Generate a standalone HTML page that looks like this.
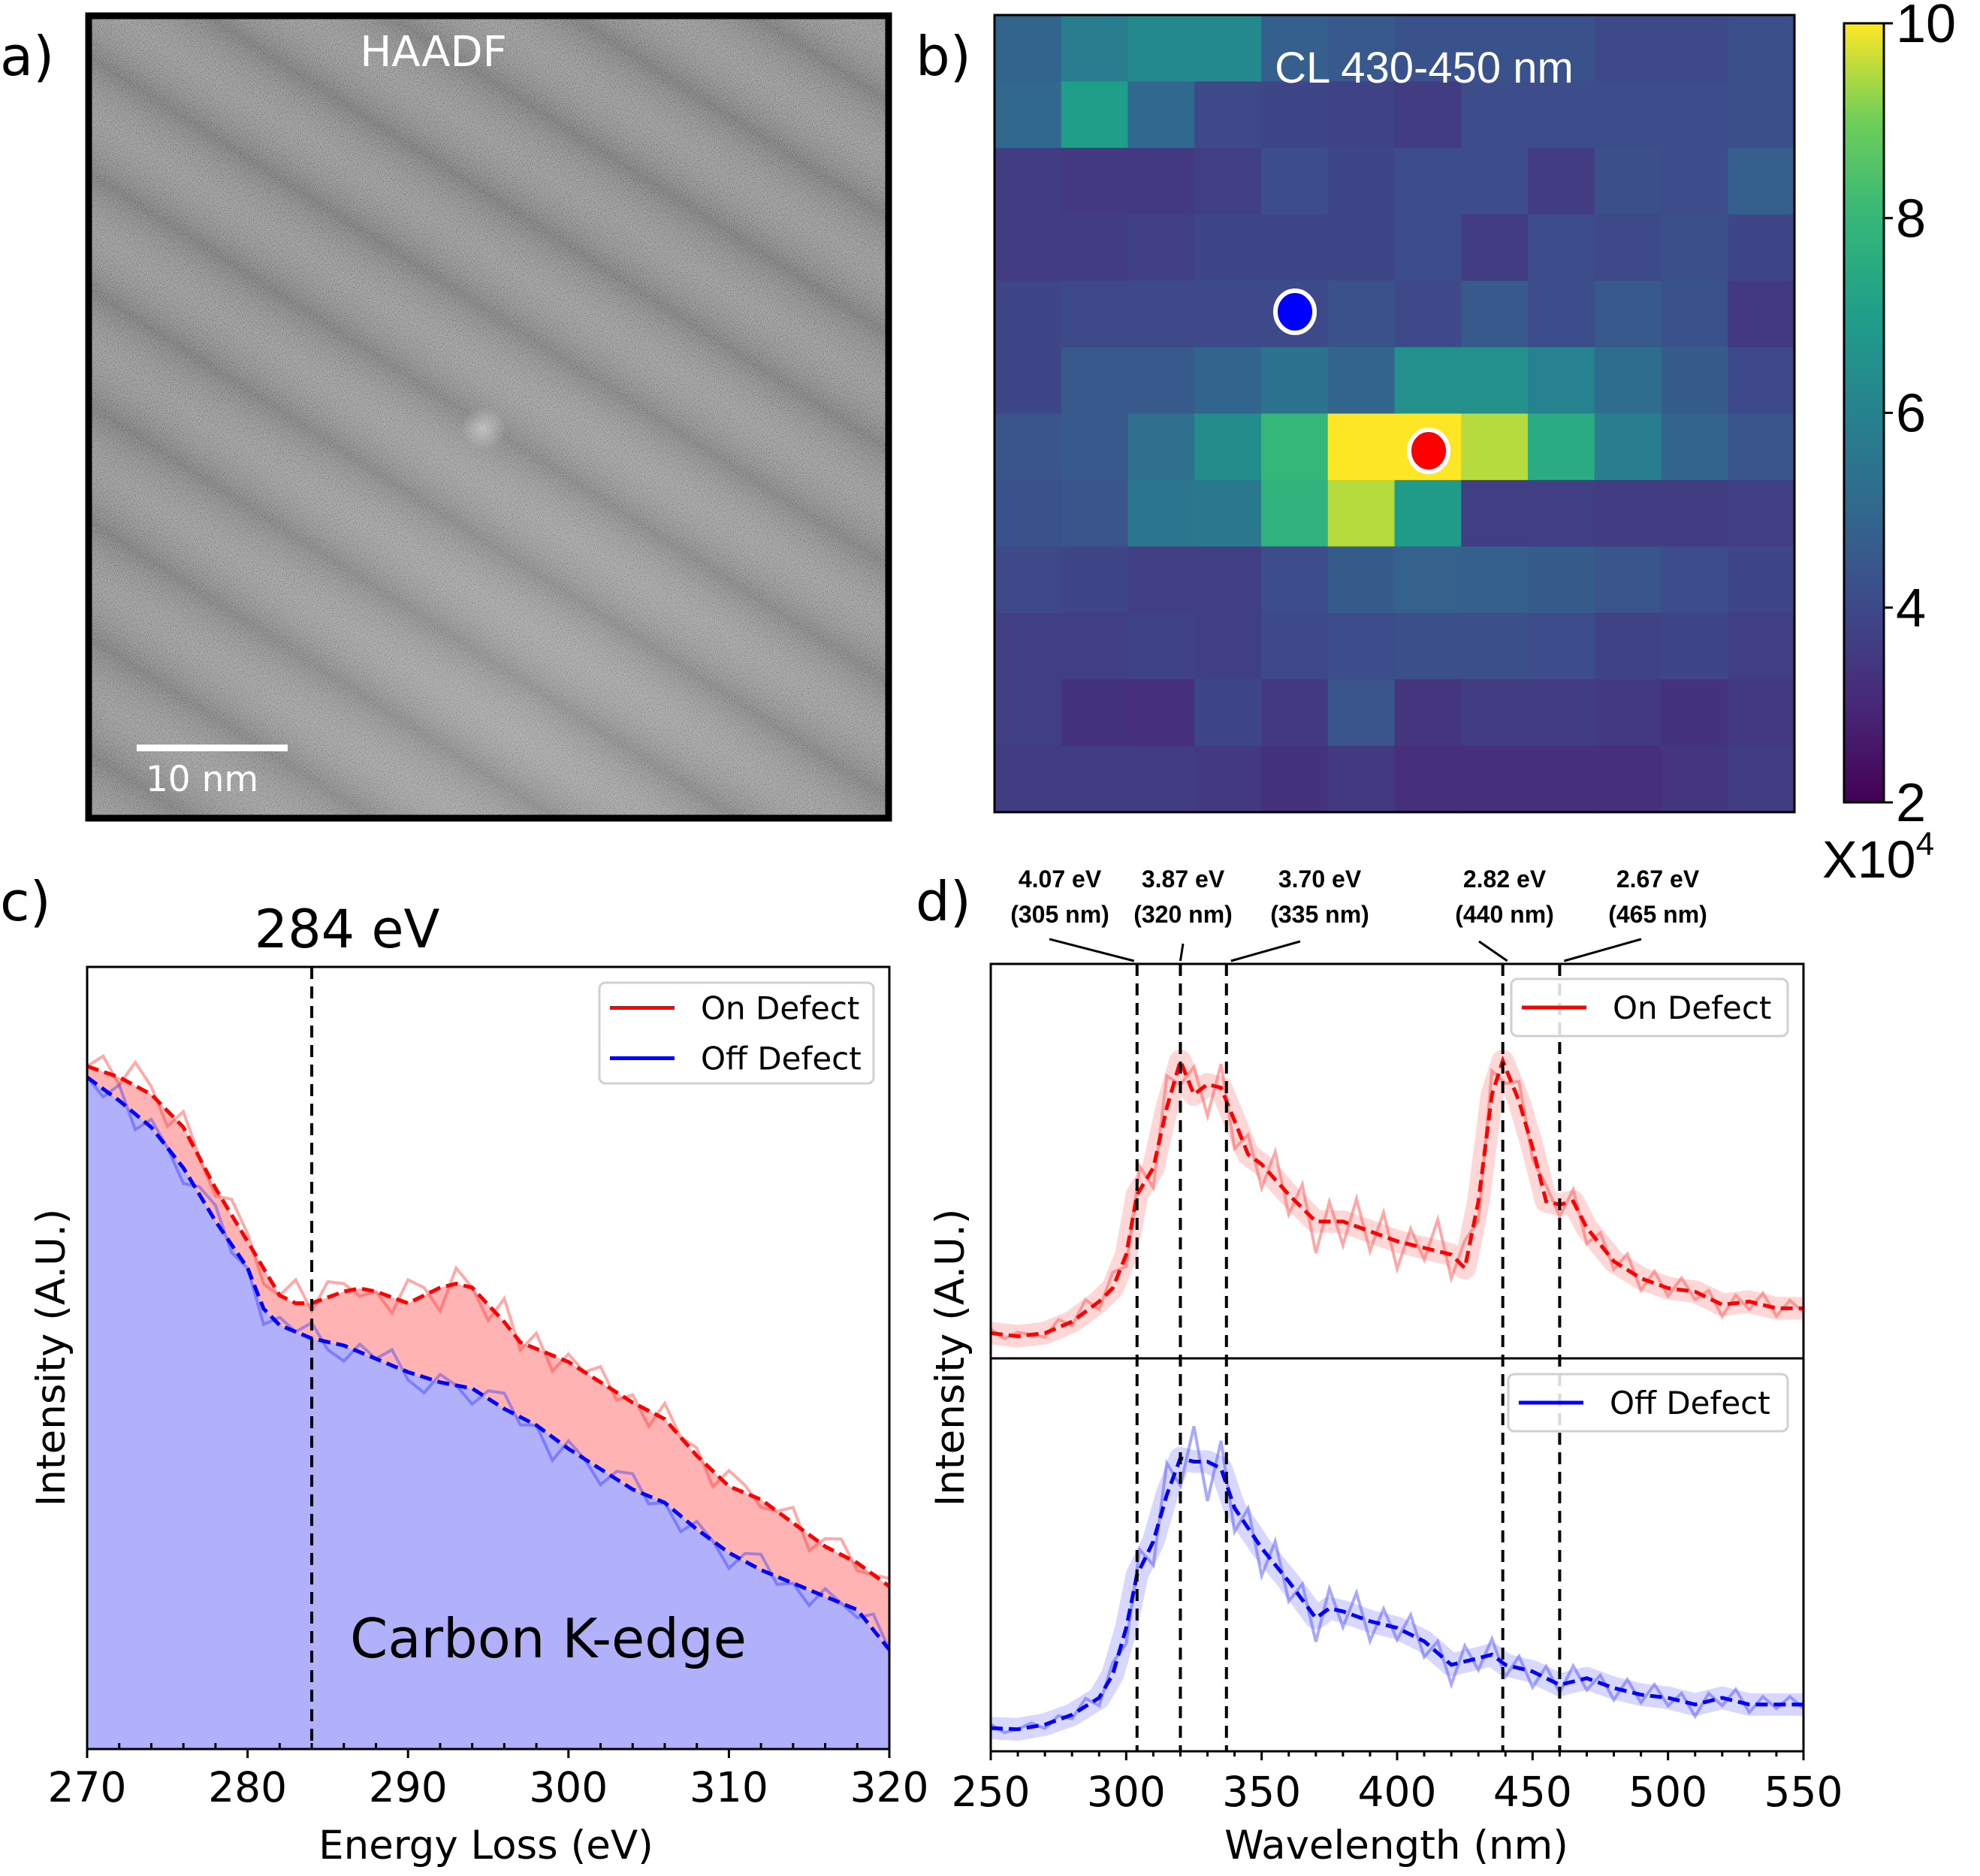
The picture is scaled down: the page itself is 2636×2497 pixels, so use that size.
<!DOCTYPE html>
<html><head><meta charset="utf-8"><style>
html,body{margin:0;padding:0;background:#fff;}
svg{display:block;font-family:"DejaVu Sans","Liberation Sans",sans-serif;}
</style></head><body>
<svg id="fig" width="2636" height="2497" viewBox="0 0 2636 2497" xmlns="http://www.w3.org/2000/svg">
<defs>
<filter id="noise" x="0" y="0" width="100%" height="100%">
<feTurbulence type="fractalNoise" baseFrequency="0.8" numOctaves="2" seed="3"/>
<feColorMatrix type="matrix" values="1.6 0 0 0 -0.3  1.6 0 0 0 -0.3  1.6 0 0 0 -0.3  0 0 0 0 0.4"/>
</filter>
<linearGradient id="bands" gradientUnits="userSpaceOnUse" x1="0" y1="0" x2="70" y2="-110" spreadMethod="repeat">
<stop offset="0" stop-color="#000" stop-opacity="0.13"/>
<stop offset="0.5" stop-color="#fff" stop-opacity="0.05"/>
<stop offset="1" stop-color="#000" stop-opacity="0.13"/>
</linearGradient>
<radialGradient id="bright" cx="0.55" cy="0.85" r="0.6">
<stop offset="0" stop-color="#fff" stop-opacity="0.15"/>
<stop offset="1" stop-color="#fff" stop-opacity="0"/>
</radialGradient>
<radialGradient id="spot" cx="0.5" cy="0.5" r="0.5">
<stop offset="0" stop-color="#fff" stop-opacity="0.45"/>
<stop offset="1" stop-color="#fff" stop-opacity="0"/>
</radialGradient>
<linearGradient id="cbar" x1="0" y1="1" x2="0" y2="0">
<stop offset="0" stop-color="#440154"/><stop offset="0.125" stop-color="#482878"/>
<stop offset="0.25" stop-color="#3e4989"/><stop offset="0.375" stop-color="#31688e"/>
<stop offset="0.5" stop-color="#26828e"/><stop offset="0.625" stop-color="#1f9e89"/>
<stop offset="0.75" stop-color="#35b779"/><stop offset="0.875" stop-color="#6ece58"/>
<stop offset="1" stop-color="#fde725"/>
</linearGradient>
</defs>

<text x="0" y="100" font-size="72">a)</text>
<text x="1219" y="100" font-size="72">b)</text>
<text x="0" y="1225" font-size="72">c)</text>
<text x="1219" y="1225" font-size="72">d)</text>

<g>
<rect x="114" y="17" width="1073" height="1076" fill="#838383"/>
<rect x="114" y="17" width="1073" height="1076" filter="url(#noise)"/>
<rect x="114" y="17" width="1073" height="1076" fill="url(#bands)"/>
<rect x="114" y="17" width="1073" height="1076" fill="url(#bright)"/>
<ellipse cx="644" cy="570" rx="30" ry="28" fill="url(#spot)"/>
<rect x="118" y="21" width="1065" height="1068" fill="none" stroke="#000" stroke-width="9"/>
</g>
<text x="577" y="88" font-size="56" fill="#fff" text-anchor="middle">HAADF</text>
<rect x="182" y="991" width="201" height="9" fill="#fff"/>
<text x="269" y="1053" font-size="47" fill="#fff" text-anchor="middle">10 nm</text>

<g id="heat"></g>
<rect x="1324" y="20" width="1065" height="1061" fill="none" stroke="#000" stroke-width="3"/>
<text x="1896" y="110" font-size="58" fill="#fff" text-anchor="middle" font-family="Liberation Sans, sans-serif">CL 430-450  nm</text>
<ellipse cx="1724" cy="415" rx="26" ry="28" fill="#0000ff" stroke="#fff" stroke-width="6"/>
<ellipse cx="1902" cy="600" rx="26" ry="28" fill="#ff0000" stroke="#fff" stroke-width="6"/>
<rect x="2455" y="31" width="53" height="1037" fill="url(#cbar)" stroke="#000" stroke-width="3"/>
<g id="cbticks"></g>
<text x="2426" y="1168" font-size="70" font-family="Liberation Sans, sans-serif">X10<tspan font-size="44" dy="-30">4</tspan></text>

<g id="pc"></g>
<g id="pd"></g>
</svg>
<script>
const heatValues = [
[4.9,5.8,6.3,6.3,4.7,4.5,4.3,4.3,4.3,4.0,4.0,4.2],
[5.0,7.0,5.0,4.0,3.9,3.8,3.6,4.1,4.1,4.1,4.1,4.2],
[3.6,3.5,3.5,3.7,4.1,3.9,4.1,4.1,3.6,4.2,4.1,4.7],
[3.6,3.6,3.7,3.9,3.9,3.9,4.1,3.6,4.1,4.0,4.2,3.9],
[3.9,4.0,4.0,4.0,4.0,4.3,4.0,4.5,4.1,4.5,4.3,3.5],
[3.9,4.5,4.5,4.9,5.4,4.9,6.5,6.5,6.0,5.2,4.6,4.0],
[4.4,4.5,5.3,6.4,8.0,10.0,10.0,9.5,7.5,5.8,4.9,4.4],
[4.3,4.4,5.5,5.6,7.8,9.5,6.9,3.7,3.7,3.6,3.6,3.7],
[4.0,3.9,3.7,3.7,4.1,4.6,4.8,4.7,4.6,4.4,4.1,3.9],
[3.7,3.7,3.8,3.7,4.0,4.1,4.2,4.2,4.1,3.8,3.9,3.7],
[3.7,3.3,3.2,3.9,3.5,4.4,3.4,3.6,3.6,3.5,3.3,3.5],
[3.6,3.6,3.6,3.5,3.3,3.5,3.2,3.2,3.2,3.2,3.4,3.6]];
const cbTicks = [2,4,6,8,10];

const eelsE  = [270,272,274,276,278,280,282,283,284,286,287,288,290,292,293,294,296,297,300,302,304,306,308,310,312,314,316,318,320];
const eelsOn = [0.873,0.859,0.837,0.795,0.717,0.649,0.580,0.570,0.570,0.585,0.589,0.585,0.570,0.590,0.595,0.590,0.546,0.520,0.495,0.469,0.443,0.422,0.375,0.336,0.319,0.289,0.259,0.238,0.208];
const eelsOffE = [270,272,274,276,278,280,281,282,284,286,288,290,292,294,296,298,300,302,304,306,308,310,312,314,316,318,320];
const eelsOff = [0.859,0.829,0.795,0.743,0.675,0.615,0.563,0.542,0.525,0.516,0.499,0.482,0.469,0.461,0.435,0.414,0.384,0.358,0.332,0.315,0.281,0.251,0.229,0.212,0.195,0.178,0.127];
const eelsNoiseOn  = [0,2,-1,3,1,-2,2,0,-1,2,1,-2,0,3,-1,2,1,-1,0,-2,3,1,-3,2,0,-2,3,-1,2,-2,1,0,2,-1,1,-2,2,0,1,-2,2,1,-1,0,2,-2,1,2,-1,0,1];
const eelsNoiseOff = [0,-1,2,-2,1,0,-2,1,2,-1,0,-2,1,0,2,-1,-2,1,0,2,-1,-2,1,0,-2,1,2,-1,0,-3,1,0,-2,1,2,-1,0,-2,1,0,-2,1,2,-1,0,-2,1,0,-1,2,0];
const eelsTicks = [270,280,290,300,310,320];

const clWlOn = [250,260,270,280,290,295,300,304,310,315,320,325,330,335,340,345,350,360,370,380,390,400,410,420,425,430,435,439,445,450,455,460,465,470,480,490,500,510,520,530,540,550];
const clOn   = [0.064,0.056,0.064,0.093,0.144,0.178,0.263,0.415,0.483,0.636,0.754,0.669,0.695,0.686,0.602,0.517,0.492,0.415,0.347,0.347,0.322,0.297,0.280,0.263,0.229,0.398,0.669,0.754,0.652,0.534,0.398,0.390,0.398,0.331,0.246,0.203,0.178,0.169,0.136,0.144,0.127,0.127];
const clWlOff = [250,260,270,280,290,295,300,304,310,315,320,325,330,335,340,350,360,370,375,380,390,400,410,420,430,435,440,450,460,470,480,490,500,510,520,530,540,550];
const clOff  = [0.059,0.056,0.068,0.093,0.136,0.195,0.314,0.449,0.534,0.653,0.746,0.737,0.737,0.720,0.619,0.517,0.432,0.339,0.364,0.356,0.331,0.314,0.280,0.220,0.237,0.246,0.220,0.203,0.169,0.186,0.161,0.144,0.136,0.119,0.136,0.119,0.119,0.119];
const clNoiseOn  = [1,-1,1,0,-1,2,-1,3,-2,4,-3,6,-5,8,-6,7,-8,6,-7,5,-6,7,-5,6,-8,5,-6,7,-5,6,-7,4,-3,8,-6,7,-5,6,-4,5,-3,4,-3,3,-4,3,-2,4,-3,3,-2,3,-2,2,-3,2,-2,3,-2,2,-1];
const clNoiseOff = [1,-1,0,1,-1,1,-1,2,-2,3,-4,5,-6,8,-7,9,-10,7,-6,5,-7,6,-5,4,-6,5,-4,6,-5,4,-3,5,-4,3,-5,4,-3,4,-3,3,-4,3,-2,4,-3,2,-3,3,-2,3,-2,2,-3,2,-2,3,-2,2,-1,2,-1];
const clTicks = [250,300,350,400,450,500,550];
const clMarkers = [304,320,337,439,460];
const clLabelEv = ["4.07 eV","3.87 eV","3.70 eV","2.82 eV","2.67 eV"];
const clLabelNm = ["(305 nm)","(320 nm)","(335 nm)","(440 nm)","(465 nm)"];

const NS="http://www.w3.org/2000/svg";
function mk(tag,attrs,parent){const e=document.createElementNS(NS,tag);for(const k in attrs)e.setAttribute(k,attrs[k]);parent.appendChild(e);return e;}
function interp(xs,ys,x){if(x<=xs[0])return ys[0];for(let i=1;i<xs.length;i++){if(x<=xs[i]){const t=(x-xs[i-1])/(xs[i]-xs[i-1]);return ys[i-1]+t*(ys[i]-ys[i-1]);}}return ys[ys.length-1];}
const vir=[[68,1,84],[72,40,120],[62,73,137],[49,104,142],[38,130,142],[31,158,137],[53,183,121],[110,206,88],[253,231,37]];
function viridis(t){t=Math.max(0,Math.min(1,t));const p=t*8,i=Math.min(7,Math.floor(p)),f=p-i;const a=vir[i],b=vir[i+1];return `rgb(${a.map((v,k)=>Math.round(v+f*(b[k]-v))).join(',')})`;}

const heat=document.getElementById('heat');
const hx0=1324,hy0=20,cw=1065/12,ch=1061/12;
heatValues.forEach((row,r)=>row.forEach((v,c)=>{
  const e=mk('rect',{x:hx0+c*cw,y:hy0+r*ch,width:cw+0.6,height:ch+0.6,fill:viridis((v-2)/8)},heat);
  
  
}));
const cbg=document.getElementById('cbticks');
cbTicks.forEach(v=>{
  const y=1068-(v-2)/8*1037;
  mk('line',{x1:2508,x2:2520,y1:y,y2:y,stroke:'#000','stroke-width':3},cbg);
  const t=mk('text',{x:2524,y:y+25,'font-size':72,'font-family':'Liberation Sans, sans-serif'},cbg);
  t.textContent=v;
  
  
});

const pc=document.getElementById('pc');
const cL=116,cR=1184,cT=1287,cB=2328;
const cx=e=>cL+(e-270)/50*(cR-cL);
const cy=v=>cB-v*(cB-cT);
let blueTop=eelsOffE.map((e,i)=>`${cx(e)},${cy(eelsOff[i])}`);
let fb=mk('polygon',{points:`${cx(270)},${cB} ${blueTop.join(' ')} ${cx(320)},${cB}`,fill:'#b0b0fb'},pc);


let redTop=eelsE.map((e,i)=>`${cx(e)},${cy(eelsOn[i])}`);
let fr=mk('polygon',{points:redTop.join(' ')+' '+blueTop.slice().reverse().join(' '),fill:'#ffb3b3'},pc);


function rawEels(xs,ys,noise,col,name){
  const pts=noise.map((n,i)=>{const e=270+i;return `${cx(e)},${cy(interp(xs,ys,e)+n*0.01)}`;});
  const p=mk('polyline',{points:pts.join(' '),fill:'none',stroke:col,'stroke-width':4,'stroke-opacity':0.45},pc);
  
  
}
rawEels(eelsE,eelsOn,eelsNoiseOn,'#ff4040','on-defect-raw-line');
rawEels(eelsOffE,eelsOff,eelsNoiseOff,'#4040ff','off-defect-raw-line');
let lr=mk('polyline',{points:redTop.join(' '),fill:'none',stroke:'#ff0000','stroke-width':5,'stroke-dasharray':'16 8'},pc);


let lb=mk('polyline',{points:blueTop.join(' '),fill:'none',stroke:'#0000ff','stroke-width':5,'stroke-dasharray':'16 8'},pc);


let v284=mk('line',{x1:cx(284),x2:cx(284),y1:cT,y2:cB,stroke:'#000','stroke-width':4,'stroke-dasharray':'16 10'},pc);


mk('rect',{x:cL,y:cT,width:cR-cL,height:cB-cT,fill:'none',stroke:'#000','stroke-width':3},pc);
for(let e=270;e<=320;e+=2){const maj=(e%10===0);mk('line',{x1:cx(e),x2:cx(e),y1:cB,y2:cB+(maj?12:0)-(maj?0:8),stroke:'#000','stroke-width':3},pc);}
eelsTicks.forEach(e=>{const t=mk('text',{x:cx(e),y:2398,'font-size':55,'text-anchor':'middle'},pc);t.textContent=e;
  });
let t;
t=mk('text',{x:647,y:2474,'font-size':53,'text-anchor':'middle'},pc);t.textContent='Energy Loss (eV)';

t=mk('text',{x:0,y:0,'font-size':53,'text-anchor':'middle',transform:'translate(86,1807) rotate(-90)'},pc);t.textContent='Intensity (A.U.)';

t=mk('text',{x:462,y:1261,'font-size':70,'text-anchor':'middle'},pc);t.textContent='284 eV';

t=mk('text',{x:730,y:2206,'font-size':72,'text-anchor':'middle'},pc);t.textContent='Carbon K-edge';

function legend(g,x,y,w,h,entries){
  const lg=mk('g',{},g);
  
  
  mk('rect',{x:x,y:y,width:w,height:h,rx:8,fill:'#fff','fill-opacity':0.85,stroke:'#d0d0d0','stroke-width':3},lg);
  entries.forEach((en,i)=>{const yy=y+h/entries.length*(i+0.5);
    mk('line',{x1:x+14,x2:x+100,y1:yy,y2:yy,stroke:en[1],'stroke-width':5},lg);
    const tt=mk('text',{x:x+135,y:yy+15,'font-size':42},lg);tt.textContent=en[0];
    });
}
legend(pc,798,1308,365,134,[['On Defect','#ff0000'],['Off Defect','#0000ff']]);

const pd=document.getElementById('pd');
const dL=1319,dR=2401,dT=1283,dM=1808,dB=2331;
const dx=w=>dL+(w-250)/300*(dR-dL);
const dyTop=v=>dM-v*(dM-dT);
const dyBot=v=>dB-v*(dB-dM);
function rawCl(xs,ys,noise,yf,col,name){
  const pts=noise.map((n,i)=>{const w=250+i*5;return `${dx(w)},${yf(interp(xs,ys,w)+n*0.01)}`;});
  const band=mk('polyline',{points:xs.map((w,i)=>`${dx(w)},${yf(ys[i])}`).join(' '),fill:'none',stroke:col,'stroke-width':30,'stroke-opacity':0.25,'stroke-linejoin':'round'},pd);
  
  
  const p=mk('polyline',{points:pts.join(' '),fill:'none',stroke:col,'stroke-width':4,'stroke-opacity':0.55},pd);
  
  
}
rawCl(clWlOn,clOn,clNoiseOn,dyTop,'#ff6060','on-defect-raw-spectrum');
rawCl(clWlOff,clOff,clNoiseOff,dyBot,'#6060ff','off-defect-raw-spectrum');
let s1=mk('polyline',{points:clWlOn.map((w,i)=>`${dx(w)},${dyTop(clOn[i])}`).join(' '),fill:'none',stroke:'#ff0000','stroke-width':5,'stroke-dasharray':'16 8'},pd);


let s2=mk('polyline',{points:clWlOff.map((w,i)=>`${dx(w)},${dyBot(clOff[i])}`).join(' '),fill:'none',stroke:'#0000ff','stroke-width':5,'stroke-dasharray':'16 8'},pd);


const labelX=[1411,1575,1757,2003,2207];
const leaderStart=[[1397,1250],[1575,1256],[1731,1253],[1969,1253],[2185,1250]];
clMarkers.forEach((w,i)=>{
  const l=mk('line',{x1:dx(w),x2:dx(w),y1:dT,y2:dB,stroke:'#000','stroke-width':4,'stroke-dasharray':'16 10'},pd);
  
  
  const ld=mk('line',{x1:leaderStart[i][0],y1:leaderStart[i][1],x2:dx(w)+(i===0?-4:(i===1?0:6)),y2:dT-4,stroke:'#000','stroke-width':3},pd);
  
  
  const a=mk('text',{x:labelX[i],y:1181,'font-size':32,'font-weight':'bold','text-anchor':'middle','font-family':'Liberation Sans, sans-serif'},pd);a.textContent=clLabelEv[i];
  
  const b=mk('text',{x:labelX[i],y:1228,'font-size':32,'font-weight':'bold','text-anchor':'middle','font-family':'Liberation Sans, sans-serif'},pd);b.textContent=clLabelNm[i];
  
});
mk('rect',{x:dL,y:dT,width:dR-dL,height:dB-dT,fill:'none',stroke:'#000','stroke-width':3},pd);
mk('line',{x1:dL,x2:dR,y1:dM,y2:dM,stroke:'#000','stroke-width':3},pd);
for(let w=250;w<=550;w+=10){const maj=(w%50===0);mk('line',{x1:dx(w),x2:dx(w),y1:dB,y2:dB+(maj?12:7),stroke:'#000','stroke-width':3},pd);}
clTicks.forEach(w=>{const tt=mk('text',{x:dx(w),y:2404,'font-size':55,'text-anchor':'middle'},pd);tt.textContent=w;
  });
t=mk('text',{x:1859,y:2474,'font-size':53,'text-anchor':'middle'},pd);t.textContent='Wavelength (nm)';

t=mk('text',{x:0,y:0,'font-size':53,'text-anchor':'middle',transform:'translate(1283,1807) rotate(-90)'},pd);t.textContent='Intensity (A.U.)';

legend(pd,2012,1303,368,76,[['On Defect','#ff0000']]);
legend(pd,2008,1829,372,76,[['Off Defect','#0000ff']]);
</script>
</body></html>
